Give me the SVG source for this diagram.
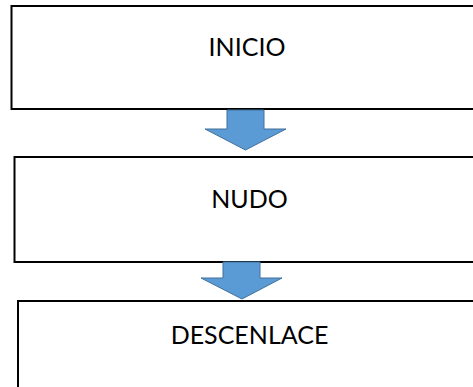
<svg xmlns="http://www.w3.org/2000/svg" width="473" height="387" viewBox="0 0 473 387">
  <style>
    .box { fill: #ffffff; stroke: #000000; stroke-width: 2; }
    .lbl { font-family: "Lato", "Liberation Sans", sans-serif; font-size: 25px; fill: #000000; text-anchor: middle; }
    .arrow { fill: #5B9BD5; stroke: #41719C; stroke-width: 1; }
  </style>
  <rect width="473" height="387" fill="#ffffff"/>
  <g id="inicio">
    <path class="box" d="M490,6 H11.5 V109 H490"/>
    <text class="lbl" x="247" y="56">INICIO</text>
  </g>
  <g id="nudo">
    <path class="box" d="M490,157 H14.5 V262 H490"/>
    <text class="lbl" x="249.5" y="208">NUDO</text>
  </g>
  <g id="descenlace">
    <path class="box" d="M490,301 H18 V400"/>
    <text class="lbl" x="249.5" y="344">DESCENLACE</text>
  </g>
  <g id="connectors">
    <polygon class="arrow" points="227,110 264,110 264,129 286,129 245.5,150 205,129 227,129"/>
    <polygon class="arrow" points="223,262 260,262 260,278 282,278 242,299 201,278 223,278"/>
  </g>
</svg>
